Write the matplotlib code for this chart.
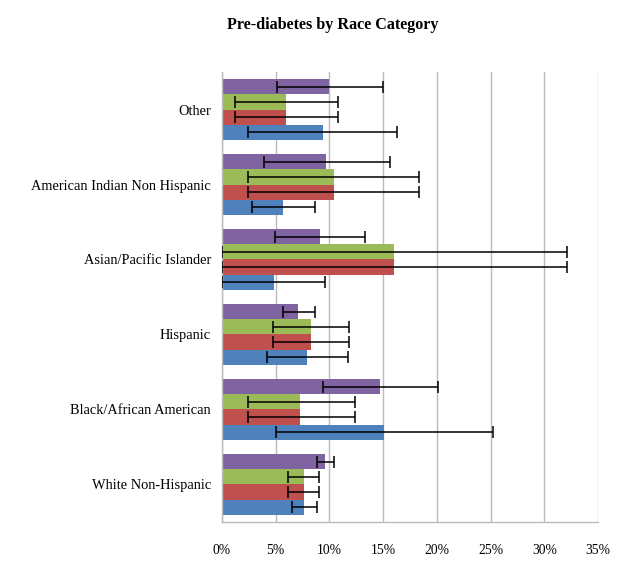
import matplotlib
matplotlib.use("Agg")
import matplotlib.pyplot as plt
import numpy as np
from matplotlib.ticker import PercentFormatter

# Categorias (de abajo hacia arriba)
categories = ["White Non-Hispanic", "Black/African American", "Hispanic",
              "Asian/Pacific Islander", "American Indian Non Hispanic", "Other"]

# Valores en % con limites inferior/superior del intervalo
blue = [7.6, 15.1, 7.9, 4.8, 5.7, 9.4]
blue_lo = [6.5, 5.0, 4.2, 0.0, 2.8, 2.4]
blue_hi = [8.8, 25.2, 11.7, 9.6, 8.7, 16.3]

red = [7.6, 7.3, 8.3, 16.0, 10.4, 6.0]
red_lo = [6.1, 2.4, 4.7, 0.0, 2.4, 1.2]
red_hi = [9.0, 12.4, 11.8, 32.1, 18.3, 10.8]

green = [7.6, 7.3, 8.3, 16.0, 10.4, 6.0]
green_lo = [6.1, 2.4, 4.7, 0.0, 2.4, 1.2]
green_hi = [9.0, 12.4, 11.8, 32.1, 18.3, 10.8]

purple = [9.6, 14.7, 7.1, 9.1, 9.7, 10.0]
purple_lo = [8.8, 9.4, 5.7, 4.9, 3.9, 5.1]
purple_hi = [10.4, 20.1, 8.7, 13.3, 15.6, 15.0]

series = [
    (blue, blue_lo, blue_hi, "#4F81BD"),
    (red, red_lo, red_hi, "#C0504D"),
    (green, green_lo, green_hi, "#9BBB59"),
    (purple, purple_lo, purple_hi, "#8064A2"),
]

plt.rcParams['font.family'] = ['Liberation Serif', 'DejaVu Serif']

fig = plt.figure(figsize=(6.21, 5.67), dpi=100)
ax = fig.add_axes([0.3575, 0.0794, 0.6055, 0.7936])

y = np.arange(len(categories))
h = 0.203
for k, (vals, lo, hi, color) in enumerate(series):
    v = np.array(vals) / 100
    err = [v - np.array(lo) / 100, np.array(hi) / 100 - v]
    pos = y + (k - 1.5) * h
    ax.barh(pos, v, height=h, color=color, zorder=2)
    ax.errorbar(v, pos, xerr=err, fmt='none', ecolor='black',
                elinewidth=1.1, capsize=4.5, capthick=1.1, zorder=3)

ax.set_xlim(0, 0.35)
ax.set_ylim(-0.5, len(categories) - 0.5)
ax.set_xticks(np.arange(0, 0.351, 0.05))
ax.xaxis.set_major_formatter(PercentFormatter(xmax=1, decimals=0))
ax.set_yticks(y)
ax.set_yticklabels(categories, fontsize=10.4)
ax.tick_params(axis='x', length=0, pad=16, labelsize=9.8)
ax.tick_params(axis='y', length=0, pad=8)

ax.grid(axis='x', color='#BBBBBB', linewidth=1.0, zorder=0)
ax.set_axisbelow(True)
for s in ['top', 'right']:
    ax.spines[s].set_visible(False)
for s in ['left', 'bottom']:
    ax.spines[s].set_color('#BBBBBB')
    ax.spines[s].set_linewidth(1.0)

fig.text(0.536, 0.956, "Pre-diabetes by Race Category", ha='center', va='center',
         fontsize=11.6, fontweight='bold')

fig.savefig("out.png", dpi=100)
